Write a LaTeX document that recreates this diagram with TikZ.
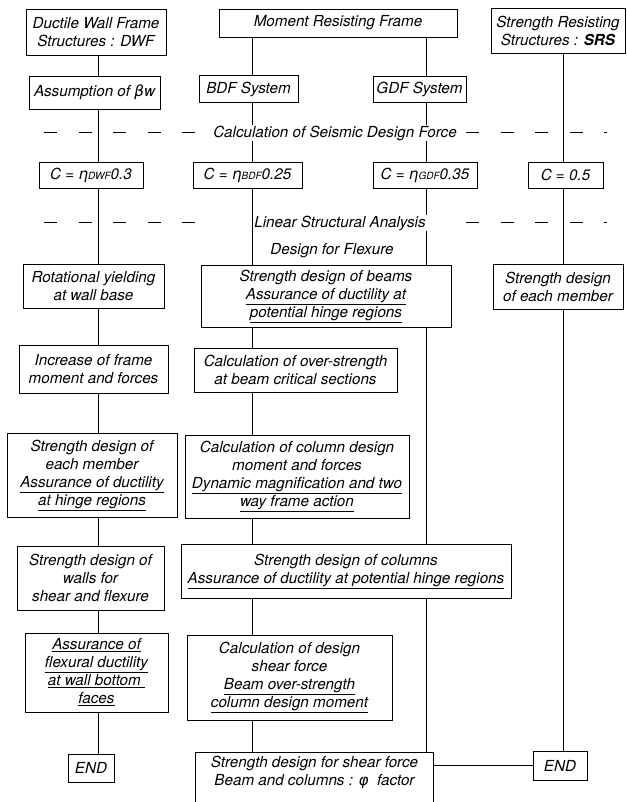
\documentclass[tikz,border=0pt]{standalone}
\usepackage{fontspec}
\setmainfont{TeX Gyre Heros}
\newfontfamily\grk{DejaVu Sans}
\usepackage{tikz}
\usetikzlibrary{calc}
\usetikzlibrary{positioning}
\newcommand{\undl}[1]{\underline{#1}}
\newcommand{\sm}[1]{{\fontsize{10}{10}\selectfont #1}}

\begin{document}
\begin{tikzpicture}[x=1pt,y=-1pt,line width=0.8pt,
    box/.style={draw,rectangle,align=center,inner sep=0pt,
      font=\fontsize{15.2}{18}\selectfont\itshape},
    lbl/.style={fill=white,inner sep=1pt,
      font=\fontsize{15.2}{18}\selectfont\itshape},
    dashline/.style={line width=1pt,dash pattern=on 13pt off 21.5pt}]
  \useasboundingbox (0,0) rectangle (626,802);
  \coordinate (colA) at (98,0);
  \coordinate (colB) at (252,0);
  \coordinate (colC) at (426,0);
  \coordinate (colD) at (563,0);

  \node[box,minimum width=140pt,minimum height=46pt] (dwf) at (96,32) {Ductile Wall Frame\\ Structures : DWF};
  \node[box,minimum width=238pt,minimum height=28pt] (mrf) at (338,23) {Moment Resisting Frame};
  \node[box,minimum width=134pt,minimum height=45pt] (srs) at (558,30.5) {Strength Resisting\\ Structures : \textbf{SRS}};

  \node[box,minimum width=131pt,minimum height=33pt] (beta) at (94.5,92.5) {Assumption of {\grk β}w};
  \node[box,minimum width=99pt,minimum height=27pt] (bdf) at (248.5,89) {BDF System};
  \node[box,minimum width=93pt,minimum height=26pt] (gdf) at (419.5,89.5) {GDF System};

  \node[box,minimum width=104pt,minimum height=26pt] (cdwf) at (91,175) {C = {\grk η}\sm{DWF}0.3};
  \node[box,minimum width=109pt,minimum height=26pt] (cbdf) at (247.5,175) {C = {\grk η}\sm{BDF}0.25};
  \node[box,minimum width=104pt,minimum height=26pt] (cgdf) at (425,175) {C = {\grk η}\sm{GDF}0.35};
  \node[box,minimum width=75pt,minimum height=26pt] (csrs) at (565.5,175) {C = 0.5};

  \node[box,minimum width=141pt,minimum height=44pt] (rot) at (93.5,286) {Rotational yielding\\ at wall base};
  \node[box,minimum width=250pt,minimum height=62pt] (beams) at (326,296) {Strength design of beams\\ \undl{Assurance of ductility at}\\ \undl{potential hinge regions}};
  \node[box,minimum width=130pt,minimum height=45pt] (srsm) at (558,286.5) {Strength design\\ of each member};

  \node[box,minimum width=149pt,minimum height=48pt] (incr) at (93.5,369) {Increase of frame\\ moment and forces};
  \node[box,minimum width=203pt,minimum height=44pt] (over) at (295.5,370) {Calculation of over-strength\\ at beam critical sections};

  \node[box,minimum width=170pt,minimum height=84pt] (each) at (92,475) {Strength design of\\ each member\\ \undl{Assurance of ductility}\\ \undl{at hinge regions}};
  \node[box,minimum width=224pt,minimum height=83pt] (colm) at (297,476.5) {Calculation of column design\\ moment and forces\\ \undl{Dynamic magnification and two}\\ \undl{way frame action}};

  \node[box,minimum width=147pt,minimum height=64pt] (walls) at (90.5,578) {Strength design of\\ walls for\\ shear and flexure};
  \node[box,minimum width=330pt,minimum height=54pt] (cols) at (346,571) {Strength design of columns\\ \undl{Assurance of ductility at potential hinge regions}};

  \node[box,minimum width=143pt,minimum height=79pt] (flex) at (96.5,672.5) {\undl{Assurance of}\\ \undl{flexural ductility}\\ \undl{at wall bottom }\\ \undl{faces}};
  \node[box,minimum width=205pt,minimum height=85pt] (shear) at (289.5,677.5) {Calculation of design\\ shear force\\ \undl{Beam over-strength}\\ \undl{column design moment}};

  \node[box,minimum width=46pt,minimum height=28pt] (endl) at (91,768) {END};
  \node[box,draw=none,anchor=north,minimum width=237pt,inner ysep=4pt] (fin) at (314.5,752) {Strength design for shear force\\ Beam and columns : {\grk φ}\ \ factor};
  \draw (fin.north west) rectangle ($(fin.south east)+(0,30)$);
  \node[box,minimum width=54pt,minimum height=29pt] (endr) at (560,765.5) {END};

  \foreach \a/\b in {dwf/beta,beta/cdwf,cdwf/rot,rot/incr,incr/each,each/walls,walls/flex,flex/endl}
    \draw (\a.south -| colA) -- (\b.north -| colA);
  \foreach \a/\b in {mrf/bdf,bdf/cbdf,cbdf/beams,beams/over,over/colm,colm/cols,cols/shear,shear/fin}
    \draw (\a.south -| colB) -- (\b.north -| colB);
  \foreach \a/\b in {mrf/gdf,gdf/cgdf,cgdf/beams,beams/cols,cols/fin}
    \draw (\a.south -| colC) -- (\b.north -| colC);
  \foreach \a/\b in {srs/csrs,csrs/srsm,srsm/endr}
    \draw (\a.south -| colD) -- (\b.north -| colD);
  \draw (fin.east |- endr.west) -- (endr.west);

  \draw[dashline] (44,133) -- (198,133);
  \draw[dashline] (466,133) -- (607,133);
  \draw[dashline] (44,223) -- (198,223);
  \draw[dashline] (466,223) -- (607,223);
  \node[lbl] (seis) at (335,133) {Calculation of Seismic Design Force};
  \node[lbl] (lin) at (340,223) {Linear Structural Analysis};
  \node[lbl] (flx) at (332,251) {Design for Flexure};
\end{tikzpicture}
\end{document}
